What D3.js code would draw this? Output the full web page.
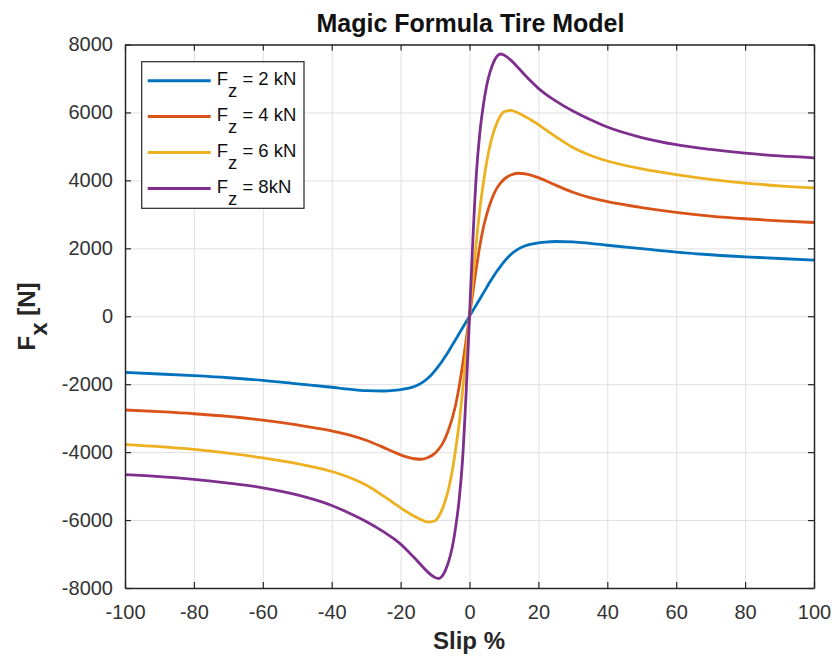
<!DOCTYPE html>
<html>
<head>
<meta charset="utf-8">
<script src="https://cdn.jsdelivr.net/npm/d3@7"></script>
<style>
    body { margin: 0; background: #fff; }
    svg text { font-family: "Liberation Sans", Arial, Helvetica, sans-serif; }
</style>
</head>
<body>
<div id="chart"></div>
<script>
(function() {
    var margin = {left: 125, top: 44.5, right: 20, bottom: 74};
    var W = 834, H = 662;

    // slip values (%) the curves were read at
    var slip = [-100, -90, -80, -70, -60, -50, -40, -35, -30, -25, -22, -20, -18, -16, -14, -12, -10, -9, -8, -7, -6, -5, -4, -3, -2, -1,
                0, 1, 2, 3, 4, 5, 6, 7, 8, 9, 10, 12, 14, 16, 18, 20, 22, 25, 30, 35, 40, 50, 60, 70, 80, 90, 100];

    // longitudinal force Fx [N] for each vertical load
    var fz2 = [-1655, -1700, -1750, -1810, -1890, -1990, -2090, -2145, -2190, -2200, -2185, -2160, -2125, -2070, -1970, -1820, -1600, -1470, -1330, -1180, -1020, -850, -680, -510, -340, -170,
               0, 170, 340, 510, 680, 850, 1020, 1180, 1330, 1470, 1600, 1820, 1970, 2070, 2125, 2160, 2185, 2200, 2190, 2145, 2090, 1990, 1890, 1810, 1750, 1700, 1655];
    var fz4 = [-2760, -2810, -2870, -2950, -3060, -3200, -3375, -3490, -3650, -3860, -3995, -4080, -4150, -4195, -4210, -4160, -4030, -3920, -3780, -3580, -3320, -3000, -2600, -2070, -1430, -720,
               0, 720, 1430, 2070, 2600, 3000, 3320, 3580, 3780, 3920, 4030, 4160, 4210, 4195, 4150, 4080, 3995, 3860, 3650, 3490, 3375, 3200, 3060, 2950, 2870, 2810, 2760];
    var fz6 = [-3780, -3840, -3920, -4030, -4170, -4340, -4570, -4740, -4970, -5290, -5500, -5640, -5770, -5890, -5990, -6060, -6020, -5900, -5700, -5420, -5050, -4550, -3900, -3150, -2200, -1100,
               0, 1100, 2200, 3150, 3900, 4550, 5050, 5420, 5700, 5900, 6020, 6060, 5990, 5890, 5770, 5640, 5500, 5290, 4970, 4740, 4570, 4340, 4170, 4030, 3920, 3840, 3780];
    var fz8 = [-4665, -4720, -4800, -4910, -5050, -5260, -5570, -5790, -6040, -6340, -6550, -6710, -6900, -7110, -7330, -7540, -7690, -7720, -7660, -7480, -7200, -6800, -6200, -5400, -4200, -2300,
               0, 2300, 4200, 5400, 6200, 6800, 7200, 7480, 7660, 7720, 7690, 7540, 7330, 7110, 6900, 6710, 6550, 6340, 6040, 5790, 5570, 5260, 5050, 4910, 4800, 4720, 4665];

    var legendLabels = [" = 2 kN", " = 4 kN", " = 6 kN", " = 8kN"];
    var colors = ["#0072BD", "#D95319", "#EDB120", "#7E2F8E"];

    var xTicks = [-100, -80, -60, -40, -20, 0, 20, 40, 60, 80, 100];
    var yTicks = [-8000, -6000, -4000, -2000, 0, 2000, 4000, 6000, 8000];

    var series = [fz2, fz4, fz6, fz8].map(function(vals, i) {
        return {
            label: legendLabels[i],
            color: colors[i],
            values: slip.map(function(s, j) { return {s: s, f: vals[j]}; })
        };
    });

    var width = 814 - margin.left,
        height = 588 - margin.top;

    var xScale = d3.scaleLinear().domain([-100, 100]).range([0, width]),
        yScale = d3.scaleLinear().domain([-8000, 8000]).range([height, 0]);

    // plain numbers with ascii minus, like matlab
    var plainFormat = function(d) { return String(d); };

    var svg = d3.select("#chart").append("svg")
        .attr("width", W)
        .attr("height", H);

    var g = svg.append("g")
        .attr("transform", "translate(" + margin.left + "," + margin.top + ")");

    // grid
    g.append("g")
        .attr("class", "grid")
        .attr("transform", "translate(0," + height + ")")
        .call(d3.axisBottom(xScale).tickValues(xTicks).tickSize(-height).tickFormat(""))
        .call(function(sel) {
            sel.select(".domain").remove();
            sel.selectAll("line").attr("stroke", "#e0e0e0").attr("stroke-width", 1);
        });
    g.append("g")
        .attr("class", "grid")
        .call(d3.axisLeft(yScale).tickValues(yTicks).tickSize(-width).tickFormat(""))
        .call(function(sel) {
            sel.select(".domain").remove();
            sel.selectAll("line").attr("stroke", "#e0e0e0").attr("stroke-width", 1);
        });

    // curves
    var line = d3.line()
        .x(function(d) { return xScale(d.s); })
        .y(function(d) { return yScale(d.f); })
        .curve(d3.curveMonotoneX);

    g.append("g")
        .selectAll("path")
        .data(series)
        .enter()
        .append("path")
        .attr("fill", "none")
        .attr("stroke", function(d) { return d.color; })
        .attr("stroke-width", 2.8)
        .attr("stroke-linejoin", "round")
        .attr("d", function(d) { return line(d.values); });

    // axes with inward ticks on all four sides
    function styleAxis(sel) {
        sel.select(".domain").attr("stroke", "#262626").attr("stroke-width", 1.5);
        sel.selectAll(".tick line").attr("stroke", "#262626").attr("stroke-width", 1.2);
        sel.selectAll(".tick text").attr("fill", "#333").style("font-size", "20px");
    }

    g.append("g")
        .attr("transform", "translate(0," + height + ")")
        .call(d3.axisBottom(xScale).tickValues(xTicks).tickFormat(plainFormat).tickSizeInner(-6).tickSizeOuter(0).tickPadding(17))
        .call(styleAxis);
    g.append("g")
        .call(d3.axisTop(xScale).tickValues(xTicks).tickSizeInner(-6).tickSizeOuter(0).tickFormat(""))
        .call(styleAxis);
    g.append("g")
        .call(d3.axisLeft(yScale).tickValues(yTicks).tickFormat(plainFormat).tickSizeInner(-6).tickSizeOuter(0).tickPadding(12))
        .call(styleAxis);
    g.append("g")
        .attr("transform", "translate(" + width + ",0)")
        .call(d3.axisRight(yScale).tickValues(yTicks).tickSizeInner(-6).tickSizeOuter(0).tickFormat(""))
        .call(styleAxis);

    // title and axis labels
    svg.append("text")
        .attr("x", 470.5)
        .attr("y", 32)
        .attr("text-anchor", "middle")
        .style("font-size", "25px")
        .style("font-weight", "bold")
        .attr("fill", "#111")
        .text("Magic Formula Tire Model");

    svg.append("text")
        .attr("x", 469)
        .attr("y", 649)
        .attr("text-anchor", "middle")
        .style("font-size", "24px")
        .style("font-weight", "bold")
        .attr("fill", "#262626")
        .text("Slip %");

    var yLab = svg.append("text")
        .attr("transform", "translate(35,316.5) rotate(-90)")
        .attr("text-anchor", "middle")
        .style("font-size", "24px")
        .style("font-weight", "bold")
        .attr("fill", "#262626");
    yLab.append("tspan").text("F");
    yLab.append("tspan").attr("dy", 12).text("x");
    yLab.append("tspan").attr("dy", -12).text(" [N]");

    // legend
    var legend = svg.append("g").attr("transform", "translate(141.7,61.7)");
    legend.append("rect")
        .attr("width", 162.3)
        .attr("height", 146.6)
        .attr("fill", "#fff")
        .attr("stroke", "#262626")
        .attr("stroke-width", 1.2);

    var item = legend.selectAll(".item")
        .data(series)
        .enter()
        .append("g")
        .attr("class", "item")
        .attr("transform", function(d, i) { return "translate(0," + (19 + i * 35.9) + ")"; });

    item.append("line")
        .attr("x1", 6).attr("x2", 69)
        .attr("stroke", function(d) { return d.color; })
        .attr("stroke-width", 3);

    var lt = item.append("text")
        .attr("x", 75)
        .attr("y", 4.5)
        .style("font-size", "18.5px")
        .attr("fill", "#111");
    lt.append("tspan").text("F");
    lt.append("tspan").attr("dy", 12).text("z");
    lt.append("tspan").attr("dy", -12).text(function(d) { return d.label; });
})();
</script>
</body>
</html>
